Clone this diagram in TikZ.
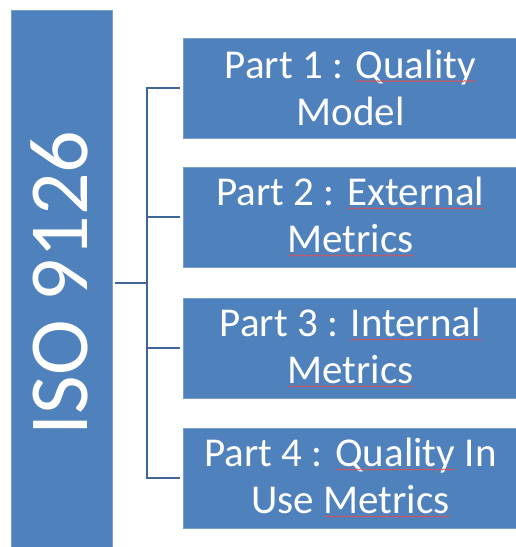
\documentclass[tikz,border=0pt]{standalone}
\usepackage{fontspec}
\setmainfont{Carlito}
\usetikzlibrary{decorations.pathmorphing}
\definecolor{boxblue}{HTML}{4F81BD}
\definecolor{boxedge}{HTML}{7A9FCC}
\definecolor{linkblue}{HTML}{3E6798}
\definecolor{squig}{HTML}{D2555A}
\newcommand\redwave[1]{\tikz[baseline=(w.base)]{%
  \node[inner sep=0pt, outer sep=0pt, minimum width=0pt, minimum height=0pt, draw=none, fill=none, anchor=base, text=white] (w) {#1};%
  \draw[squig, line width=0.7pt, decorate, decoration={snake, amplitude=0.7pt, segment length=3pt}]
    ([yshift=-2.5pt]w.base west) -- ([yshift=-2.5pt]w.base east);}}
\begin{document}
\begin{tikzpicture}[x=1pt,y=-1pt,
  box/.style={fill=boxblue, draw=boxedge, line width=0.6pt, inner sep=0pt, outer sep=0pt},
  part/.style={box, minimum width=335pt, minimum height=100pt, anchor=west,
    text=white, align=center, font=\fontsize{41}{47}\selectfont},
  link/.style={draw=linkblue, line width=1.5pt}]
\useasboundingbox (0,0) rectangle (516,547);
\node[box, minimum width=101pt, minimum height=546pt] (iso) at (61.5,283) {};
\node[rotate=90, text=white, inner sep=0pt, font=\fontsize{84}{100}\selectfont, yshift=2pt] (isolabel) at (iso.center) {ISO 9126};
\node[part] (p1) at (183,88) {Part 1 : \redwave{Quality}\\Model};
\node[part] (p2) at (183,217) {Part 2 : \redwave{External}\\\redwave{Metrics}};
\node[part] (p3) at (183,348) {Part 3 : \redwave{Internal}\\\redwave{Metrics}};
\node[part] (p4) at (183,478) {Part 4 : \redwave{Quality} In\\Use \redwave{Metrics}};
\coordinate (hub) at (147,283);
\draw[link] ([xshift=3pt]iso.east) -- (hub);
\draw[link] ([xshift=-3pt]p1.west) -| (hub);
\draw[link] ([xshift=-3pt]p2.west) -| (hub);
\draw[link] ([xshift=-3pt]p3.west) -| (hub);
\draw[link] ([xshift=-3pt]p4.west) -| (hub);
\end{tikzpicture}
\end{document}
